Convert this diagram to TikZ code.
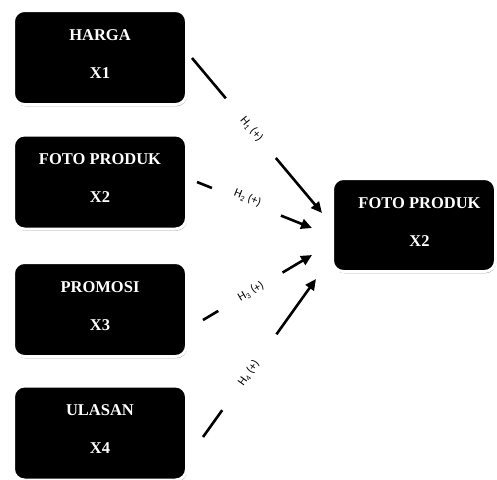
\documentclass[tikz,border=0pt]{standalone}
\usepackage{fontspec}
\setmainfont{Liberation Serif}
\newfontfamily\lblfont{Carlito}
\usetikzlibrary{arrows.meta,calc,shadows}
\begin{document}
\begin{tikzpicture}[x=1pt,y=-1pt,
  varbox/.style={rectangle, rounded corners=11pt, fill=black, draw=white,
    line width=3pt, minimum width=173pt, minimum height=94pt, inner sep=0pt,
    drop shadow={shadow xshift=0.8pt, shadow yshift=-1.8pt, opacity=0.35, fill=black}},
  boxtext/.style={text=white, font=\bfseries\fontsize{16.5}{18}\selectfont,
    inner sep=0pt, anchor=base},
  conn/.style={line width=2.6pt, black},
  connarrow/.style={conn, -{Triangle[length=11pt,width=10pt]}},
  lbl/.style={font=\lblfont\fontsize{12}{14}\selectfont, sloped, inner sep=0pt}]
\useasboundingbox (0,0) rectangle (497,479);

% left boxes
\node[varbox] (b1) at (100,57.5) {};
\node[boxtext] (b1a) at ($(b1.center)+(0,-17.5)$) {HARGA};
\node[boxtext] (b1b) at ($(b1.center)+(0,20.5)$) {X1};

\node[varbox] (b2) at (100,182) {};
\node[boxtext] (b2a) at ($(b2.center)+(0,-17.5)$) {FOTO PRODUK};
\node[boxtext] (b2b) at ($(b2.center)+(0,20.5)$) {X2};

\node[varbox] (b3) at (100,309.5) {};
\node[boxtext] (b3a) at ($(b3.center)+(0,-17.5)$) {PROMOSI};
\node[boxtext] (b3b) at ($(b3.center)+(0,20.5)$) {X3};

\node[varbox] (b4) at (100,433) {};
\node[boxtext] (b4a) at ($(b4.center)+(0,-17.5)$) {ULASAN};
\node[boxtext] (b4b) at ($(b4.center)+(0,20.5)$) {X4};

% right box
\node[varbox, minimum width=163pt, minimum height=93pt] (y) at (414,225) {};
\node[boxtext] (ya) at ($(y.center)+(5.5,-16.5)$) {FOTO PRODUK};
\node[boxtext] (yb) at ($(y.center)+(5.5,21.5)$) {X2};

% connector end points
\coordinate (s1) at (192,58);  \coordinate (e1) at (322,213);
\coordinate (s2) at (197,182); \coordinate (e2) at (312,228);
\coordinate (s3) at (203,320); \coordinate (e3) at (312,255);
\coordinate (s4) at (203,437); \coordinate (e4) at (316,279);

% H1
\draw[conn] (s1) -- ($(s1)!0.26!(e1)$);
\draw[connarrow] ($(s1)!0.645!(e1)$) -- (e1);
\path (s1) -- node[lbl, pos=0.449, xshift=2pt] (l1) {H\textsubscript{1} (+)} (e1);
% H2
\draw[conn] (s2) -- ($(s2)!0.13!(e2)$);
\draw[connarrow] ($(s2)!0.73!(e2)$) -- (e2);
\path (s2) -- node[lbl, pos=0.427, yshift=4pt] (l2) {H\textsubscript{2} (+)} (e2);
% H3
\draw[conn] (s3) -- ($(s3)!0.14!(e3)$);
\draw[connarrow] ($(s3)!0.73!(e3)$) -- (e3);
\path (s3) -- node[lbl, pos=0.44] (l3) {H\textsubscript{3} (+)} (e3);
% H4
\draw[conn] (s4) -- ($(s4)!0.17!(e4)$);
\draw[connarrow] ($(s4)!0.65!(e4)$) -- (e4);
\path (s4) -- node[lbl, pos=0.405] (l4) {H\textsubscript{4} (+)} (e4);
\end{tikzpicture}
\end{document}
